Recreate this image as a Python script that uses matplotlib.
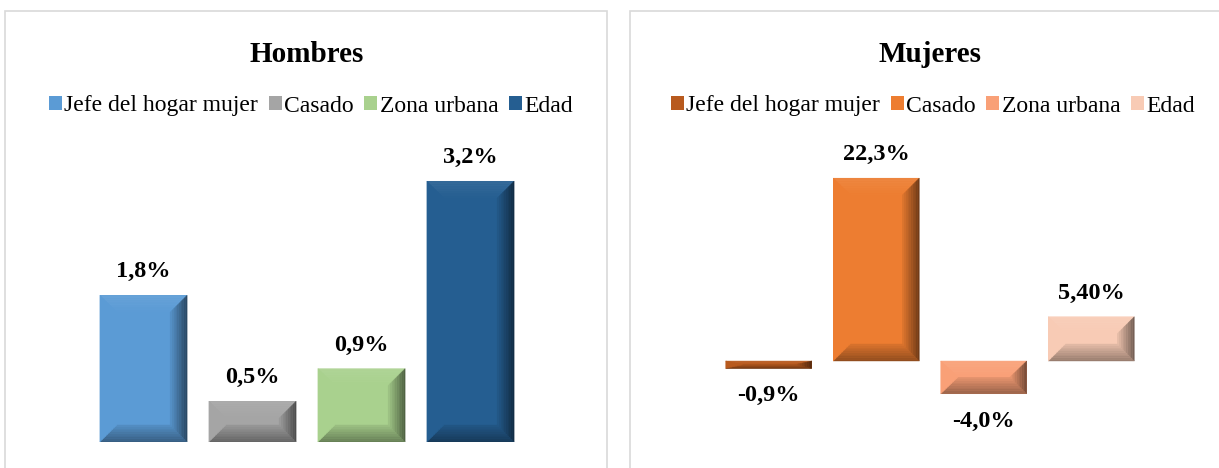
import matplotlib
matplotlib.use('Agg')
import matplotlib.pyplot as plt
from matplotlib.patches import Patch, Polygon, Rectangle
from matplotlib.colors import to_rgb
import numpy as np

categories = ['Jefe del hogar mujer', 'Casado', 'Zona urbana', 'Edad']

hombres_vals = [1.8, 0.5, 0.9, 3.2]
hombres_labels = ['1,8%', '0,5%', '0,9%', '3,2%']
hombres_colors = ['#5B9BD5', '#A5A5A5', '#A9D18E', '#255E91']

mujeres_vals = [-0.9, 22.3, -4.0, 5.40]
mujeres_labels = ['-0,9%', '22,3%', '-4,0%', '5,40%']
mujeres_colors = ['#B85A1E', '#ED7D31', '#F9A077', '#F8CBB5']

plt.rcParams['font.family'] = ['Liberation Serif', 'DejaVu Serif']

W, H = 1219, 468
fig = plt.figure(figsize=(W / 100, H / 100), dpi=100)


def mix(c, other, t):
    c = np.array(to_rgb(c))
    o = np.array(to_rgb(other))
    return tuple(c * (1 - t) + o * t)


def ax_rect(left, right, top, bottom):
    # figure pixel box -> figure fraction
    return [left / W, 1 - bottom / H, (right - left) / W, (bottom - top) / H]


def bevel_bars(ax, vals, colors, width=0.8, px=17, py=17, steps=10):
    x = np.arange(len(vals))
    bars = ax.bar(x, vals, width=width, color=colors, edgecolor='none')
    bb = ax.get_window_extent()
    xl, yl = ax.get_xlim(), ax.get_ylim()
    sx = bb.width / (xl[1] - xl[0])
    sy = bb.height / (yl[1] - yl[0])
    for b, c in zip(bars, colors):
        x0, x1 = b.get_x(), b.get_x() + b.get_width()
        y0, y1 = sorted([b.get_y(), b.get_y() + b.get_height()])
        dx = min(px / sx, (x1 - x0) / 2)
        dy = min(py / sy, (y1 - y0) / 2)

        def ring(t):
            return [(x0 + t * dx, y1 - t * dy), (x1 - t * dx, y1 - t * dy),
                    (x1 - t * dx, y0 + t * dy), (x0 + t * dx, y0 + t * dy)]

        # outer -> inner shading per side: top, right, bottom, left
        shade = [(-0.08, 0.0), (0.55, 0.05), (0.40, 0.08), (0.0, 0.0)]
        for k in range(steps):
            a, bnd = ring(k / steps), ring((k + 1) / steps)
            t = (k + 0.5) / steps
            for s in range(4):
                s2 = (s + 1) % 4
                amt = shade[s][0] * (1 - t) + shade[s][1] * t
                fc = mix(c, 'black', amt) if amt >= 0 else mix(c, 'white', -amt)
                pts = [a[s], a[s2], bnd[s2], bnd[s]]
                ax.add_patch(Polygon(pts, closed=True, fc=fc, ec=fc, lw=0.3, zorder=3))
    return bars


def panel(vals, labels, colors, rect, ylim, title, title_x, leg_x):
    ax = fig.add_axes(rect)
    ax.set_xlim(-0.5, len(vals) - 0.5)
    ax.set_ylim(*ylim)
    ax.axis('off')
    bevel_bars(ax, vals, colors)
    for i, (v, lab) in enumerate(zip(vals, labels)):
        if v >= 0:
            ax.annotate(lab, (i, v), xytext=(0, 13), textcoords='offset points',
                        ha='center', va='baseline', fontsize=17.5, fontweight='bold')
        else:
            ax.annotate(lab, (i, v), xytext=(0, -12), textcoords='offset points',
                        ha='center', va='top', fontsize=17.5, fontweight='bold')
    fig.text(title_x / W, 1 - 62 / H, title, ha='center', va='baseline',
             fontsize=21, fontweight='bold')
    handles = [Patch(facecolor=c, edgecolor='none') for c in colors]
    fig.legend(handles, categories, loc='center', bbox_to_anchor=(leg_x / W, 1 - 106 / H),
               ncol=4, frameon=False, fontsize=17, handlelength=0.55, handleheight=0.55,
               handletextpad=0.1, columnspacing=0.45, borderaxespad=0, borderpad=0)
    return ax


# panel frames
for x0, x1 in [(5, 607), (630, 1230)]:
    fig.add_artist(Rectangle((x0 / W, -0.05), (x1 - x0) / W, 1.05 - 11 / H,
                             transform=fig.transFigure, fill=False,
                             ec='#D9D9D9', lw=1.2))

panel(hombres_vals, hombres_labels, hombres_colors,
      ax_rect(89, 525, 150, 442), (0, (442 - 150) / 81.5),
      'Hombres', 307, 311)

panel(mujeres_vals, mujeres_labels, mujeres_colors,
      ax_rect(715, 1145, 150, 440), (-(440 - 361) / 8.2, (361 - 150) / 8.2),
      'Mujeres', 930, 933)

fig.savefig('out.png', dpi=100)
